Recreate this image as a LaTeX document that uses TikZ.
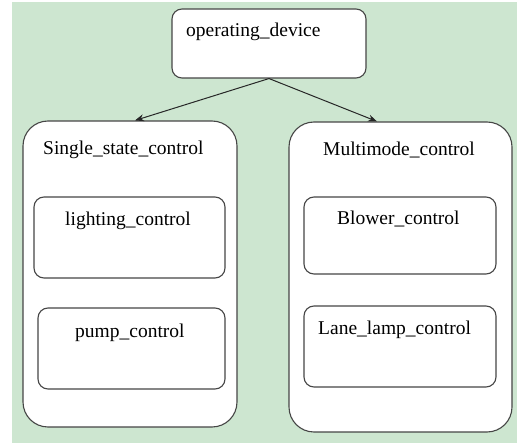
\documentclass[tikz,border=0pt]{standalone}
\usepackage{fontspec}
\setmainfont{Liberation Serif}
\usetikzlibrary{arrows.meta}
\definecolor{bggreen}{RGB}{205,230,208}
\definecolor{boxline}{RGB}{70,70,70}
\begin{document}
\begin{tikzpicture}[x=1pt,y=-1pt,
  box/.style={draw=boxline,line width=1.1pt,fill=white,rounded corners=#1,inner sep=0pt,anchor=center},
  box/.default=10pt,
  lbl/.style={anchor=base west,inner sep=0pt,font=\fontsize{19.5}{22}\selectfont},
  conn/.style={draw=black!85,line width=1pt,-{Stealth[length=9pt,width=7pt]}}]
\useasboundingbox (0,0) rectangle (517,443);
\fill[bggreen] (12,2) rectangle (517,443);
% top box
\node[box, minimum width=194pt, minimum height=69pt] (op) at (269,43.5) {};
\node[lbl] (opt) at (186,37) {operating\_device};
% outer boxes
\node[box=25pt, minimum width=214pt, minimum height=306pt] (L) at (130,274) {};
\node[box=25pt, minimum width=223pt, minimum height=310pt] (R) at (400.5,277) {};
\node[lbl] (Lt) at (43,155) {Single\_state\_control};
\node[lbl] (Rt) at (323,156) {Multimode\_control};
% inner boxes
\node[box, minimum width=191pt, minimum height=81pt] (L1) at (129.5,237.5) {};
\node[box, minimum width=187pt, minimum height=81pt] (L2) at (131.5,348.5) {};
\node[box, minimum width=192pt, minimum height=77pt] (R1) at (400,235.5) {};
\node[box, minimum width=192pt, minimum height=81pt] (R2) at (400,346.5) {};
\node[lbl] (L1t) at (65,226) {lighting\_control};
\node[lbl] (L2t) at (75,338) {pump\_control};
\node[lbl] (R1t) at (337,225) {Blower\_control};
\node[lbl] (R2t) at (318,335) {Lane\_lamp\_control};
% connectors
\draw[conn] (op.south) -- ([xshift=5pt]L.north);
\draw[conn] (op.south) -- ([xshift=-23.5pt]R.north);
\end{tikzpicture}
\end{document}
